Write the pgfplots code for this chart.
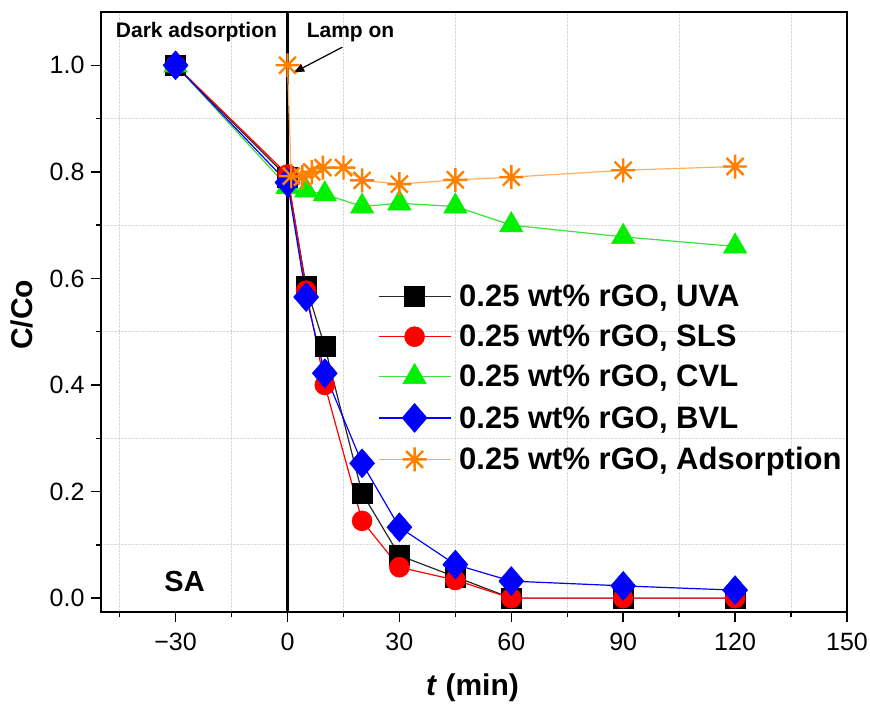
\documentclass[border=0pt]{standalone}
\usepackage{pgfplots}
\pgfplotsset{compat=1.18}
\usetikzlibrary{arrows.meta}
\usepackage{fontspec}
\setmainfont{Liberation Sans}
\definecolor{cOrM}{RGB}{255,128,0}
\definecolor{cOrL}{RGB}{255,175,95}
\definecolor{cGr}{RGB}{0,240,0}
\definecolor{cGrL}{RGB}{60,225,60}
\definecolor{cBk}{RGB}{40,40,40}
\pgfdeclareplotmark{star8}{%
  \pgfpathmoveto{\pgfqpoint{0pt}{\pgfplotmarksize}}\pgfpathlineto{\pgfqpoint{0pt}{-\pgfplotmarksize}}%
  \pgfpathmoveto{\pgfqpoint{\pgfplotmarksize}{0pt}}\pgfpathlineto{\pgfqpoint{-\pgfplotmarksize}{0pt}}%
  \pgfpathmoveto{\pgfqpoint{0.707\pgfplotmarksize}{0.707\pgfplotmarksize}}\pgfpathlineto{\pgfqpoint{-0.707\pgfplotmarksize}{-0.707\pgfplotmarksize}}%
  \pgfpathmoveto{\pgfqpoint{0.707\pgfplotmarksize}{-0.707\pgfplotmarksize}}\pgfpathlineto{\pgfqpoint{-0.707\pgfplotmarksize}{0.707\pgfplotmarksize}}%
  \pgfusepathqstroke}
\begin{document}
\begin{tikzpicture}
\begin{axis}[
  scale only axis, width=746pt, height=600pt,
  xmin=-50, xmax=150, ymin=-0.026, ymax=1.1,
  xtick={-30,0,30,60,90,120,150},
  xticklabels={−30,0,30,60,90,120,150},
  ytick={0,0.2,0.4,0.6,0.8,1.0},
  yticklabels={0.0,0.2,0.4,0.6,0.8,1.0},
  minor xtick={-45,-15,15,45,75,105,135},
  minor ytick={0.1,0.3,0.5,0.7,0.9},
  xminorgrids=true, yminorgrids=true,
  minor grid style={densely dotted, black!15, line width=0.8pt},
  xtick pos=bottom, ytick pos=left,
  tick align=outside,
  major tick length=10pt, minor tick length=5pt,
  every tick/.style={black, line width=1.5pt},
  axis line style={line width=1.8pt},
  ticklabel style={font=\fontsize{25}{25}\selectfont},
  xticklabel style={yshift=-8pt},
  yticklabel style={xshift=-3pt},
  xlabel={\textbf{\textit{t} (min)}},
  ylabel={\textbf{C/Co}},
  label style={font=\fontsize{30}{30}\selectfont},
  xlabel style={at={(axis description cs:0.498,-0.127)}, anchor=center},
  ylabel style={at={(axis description cs:-0.106,0.495)}, anchor=center},
  legend style={draw=none, fill=none, at={(0.367,0.552)}, anchor=north west,
    font=\bfseries\fontsize{31}{36}\selectfont, row sep=13pt,
    /tikz/every even column/.append style={column sep=14pt}},
  legend cell align=left,
  legend image code/.code={\draw[mark repeat=2,mark phase=2] plot coordinates {(0pt,0pt) (36pt,0pt) (72pt,0pt)};},
  clip=false,
]
\addplot[black, line width=2.2pt, forget plot] coordinates {(0,-0.026) (0,1.1)};
\addplot[cBk, line width=1.2pt, mark=square*, mark size=10pt, mark options={solid, fill=black, draw=black, line width=0.5pt}] coordinates {
(-30,1.0) (0,0.79) (5,0.585) (10,0.472) (20,0.197) (30,0.08) (45,0.04) (60,0.0) (90,0.0) (120,0.0)};
\addlegendentry{\hspace{6pt}0.25 wt\% rGO, UVA}
\addplot[red, line width=1.2pt, mark=*, mark size=10pt, mark options={solid, fill=red, draw=red, line width=0.5pt}] coordinates {
(-30,1.0) (0,0.795) (5,0.577) (10,0.40) (20,0.145) (30,0.058) (45,0.034) (60,0.0) (90,0.0) (120,0.0)};
\addlegendentry{\hspace{6pt}0.25 wt\% rGO, SLS}
\addplot[cGrL, line width=1.2pt, mark=triangle*, mark size=13.5pt, mark options={solid, fill=cGr, draw=cGr, line width=0.5pt}] coordinates {
(-30,1.0) (0,0.772) (5,0.765) (10,0.758) (20,0.735) (30,0.741) (45,0.735) (60,0.70) (90,0.678) (120,0.66)};
\addlegendentry{\hspace{6pt}0.25 wt\% rGO, CVL}
\addplot[blue, line width=1.2pt, mark=diamond*, mark size=14.5pt, mark options={solid, fill=blue, draw=blue, line width=0.5pt, xscale=1.15}] coordinates {
(-30,1.0) (0,0.78) (5,0.565) (10,0.422) (20,0.253) (30,0.133) (45,0.063) (60,0.032) (90,0.023) (120,0.015)};
\addlegendentry{\hspace{6pt}0.25 wt\% rGO, BVL}
\addplot[cOrL, line width=1.2pt, mark=star8, mark size=12pt, mark options={solid, draw=cOrM, line width=2.4pt}] coordinates {
(0,1.0) (1,0.792) (4,0.79) (6.5,0.80) (9.5,0.808) (15,0.808) (20,0.784) (30,0.777) (45,0.785) (60,0.79) (90,0.803) (120,0.81)};
\addlegendentry{\hspace{6pt}0.25 wt\% rGO, Adsorption}
\node[font=\bfseries\fontsize{21}{21}\selectfont] at (axis cs:-24.4,1.062) {Dark adsorption};
\node[font=\bfseries\fontsize{21}{21}\selectfont] at (axis cs:16.9,1.062) {Lamp on};
\node[font=\bfseries\fontsize{29}{29}\selectfont] at (axis cs:-27.6,0.032) {SA};
\draw[-{Latex[length=12pt,width=9pt]}, line width=1.2pt] (axis cs:14.7,1.034) -- (axis cs:1.3,0.985);
\end{axis}
\pgfresetboundingbox
\path ([shift={(-101pt,-94pt)}]current axis.south west) rectangle ([shift={(23pt,12pt)}]current axis.north east);
\end{tikzpicture}
\end{document}
